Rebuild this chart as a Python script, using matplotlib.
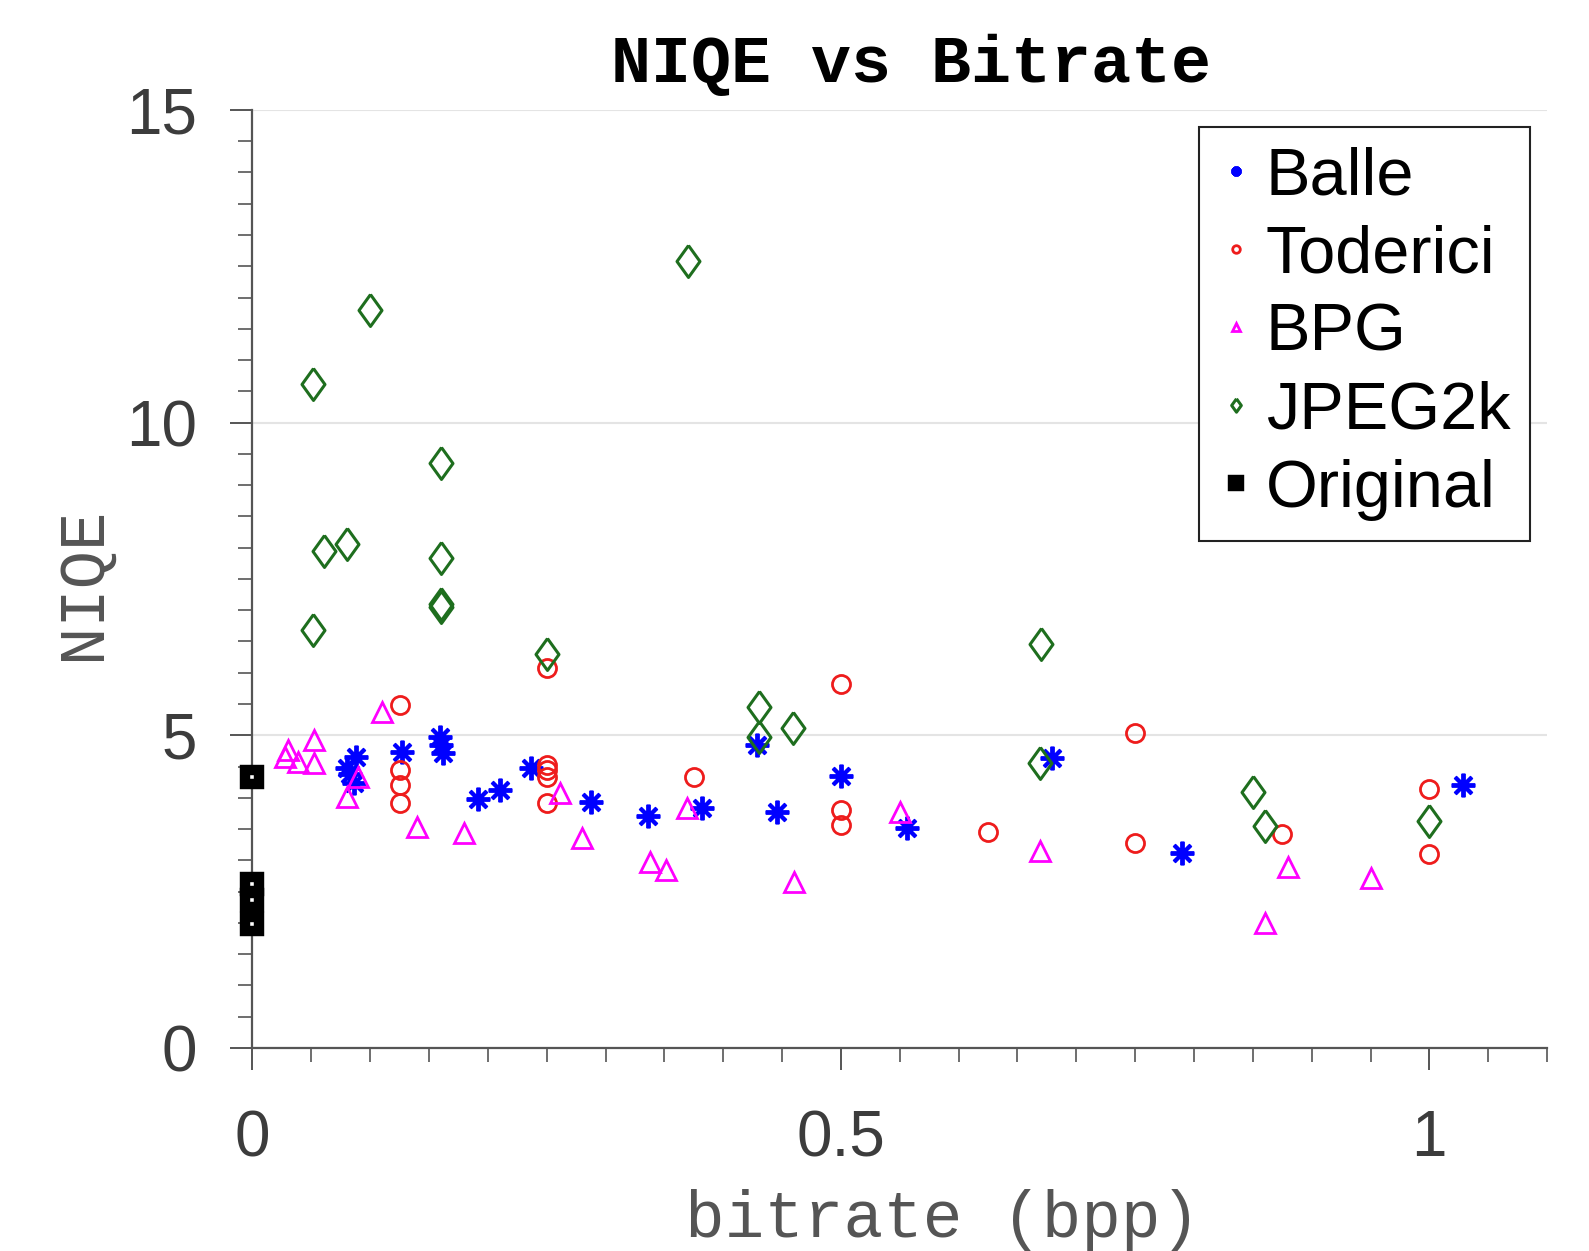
import matplotlib
matplotlib.use('Agg')
import matplotlib.pyplot as plt
from matplotlib.ticker import MultipleLocator

# =============================================================================
# NIQE scores per codec
# =============================================================================

balle_x = [0.080, 0.083, 0.086, 0.088, 0.127, 0.159, 0.160, 0.162, 0.192, 0.210,
           0.237, 0.2875, 0.336, 0.382, 0.429, 0.446, 0.500, 0.556, 0.679, 0.790, 1.029]
balle_y = [4.47, 4.38, 4.23, 4.66, 4.74, 4.98, 4.85, 4.71, 3.98, 4.12,
           4.47, 3.93, 3.71, 3.83, 4.85, 3.78, 4.35, 3.51, 4.63, 3.12, 4.21]

toderici_x = [0.125, 0.125, 0.125, 0.125, 0.250, 0.250, 0.250, 0.250, 0.250, 0.375,
              0.500, 0.500, 0.500, 0.625, 0.750, 0.750, 0.875, 1.000, 1.000]
toderici_y = [5.49, 4.45, 4.20, 3.91, 6.07, 4.53, 4.44, 4.34, 3.91, 4.34,
              5.82, 3.81, 3.57, 3.46, 5.03, 3.28, 3.42, 4.14, 3.10]

bpg_x = [0.028, 0.030, 0.039, 0.052, 0.052, 0.080, 0.090, 0.110, 0.140, 0.180, 0.261,
         0.280, 0.338, 0.351, 0.369, 0.460, 0.550, 0.669, 0.860, 0.880, 0.950]
bpg_y = [4.65, 4.76, 4.57, 4.92, 4.55, 4.02, 4.34, 5.38, 3.54, 3.44, 4.08,
         3.35, 2.97, 2.85, 3.83, 2.66, 3.78, 3.15, 2.00, 2.90, 2.71]

jpeg_x = [0.051, 0.051, 0.061, 0.080, 0.100, 0.160, 0.160, 0.160, 0.160, 0.250,
          0.370, 0.430, 0.430, 0.459, 0.669, 0.670, 0.8505, 0.860, 1.000]
jpeg_y = [10.62, 6.68, 7.94, 8.06, 11.80, 9.36, 7.83, 7.10, 7.05, 6.30,
          12.59, 5.46, 4.98, 5.11, 4.55, 6.46, 4.10, 3.55, 3.63]

orig_x = [0, 0, 0, 0]
orig_y = [4.33, 2.63, 2.36, 1.98]

# matlab-ish diamond, a bit wider than mpl's 'd'
diamond = [(0, 1), (0.72, 0), (0, -1), (-0.72, 0), (0, 1)]

# =============================================================================
# figure
# =============================================================================

fig = plt.figure(figsize=(15.89, 12.51), dpi=100)
ax = fig.add_axes([0.1589, 0.1623, 0.8147, 0.7498])

ax.plot(balle_x, balle_y, linestyle='none', marker=(8, 2, 0), ms=17, mew=2.8,
        color='#0000ff', label='Balle')
ax.plot(toderici_x, toderici_y, linestyle='none', marker='o', ms=13, mew=2.0,
        mfc='none', mec='#ee1c1c', label='Toderici')
ax.plot(bpg_x, bpg_y, linestyle='none', marker='^', ms=15, mew=2.0,
        mfc='none', mec='#ff00ff', label='BPG')
ax.plot(jpeg_x, jpeg_y, linestyle='none', marker=diamond, ms=23, mew=2.2,
        mfc='none', mec='#1e6e1e', label='JPEG2k')
ax.plot(orig_x, orig_y, linestyle='none', marker='s', ms=10.5, mew=7.5,
        mfc='white', mec='black', label='Original', clip_on=False, zorder=5)

ax.set_xlim(0, 1.1)
ax.set_ylim(0, 15)

ax.xaxis.set_major_locator(MultipleLocator(0.5))
ax.xaxis.set_minor_locator(MultipleLocator(0.05))
ax.yaxis.set_major_locator(MultipleLocator(5))
ax.yaxis.set_minor_locator(MultipleLocator(0.5))
ax.xaxis.set_major_formatter(plt.FuncFormatter(lambda v, p: '%g' % v))

ax.grid(True, which='major', axis='y', color='#e4e4e4', linewidth=1.5)
ax.set_axisbelow(True)

for s in ['top', 'right']:
    ax.spines[s].set_visible(False)
for s in ['left', 'bottom']:
    ax.spines[s].set_color('#555555')
    ax.spines[s].set_linewidth(1.6)

ax.tick_params(which='major', direction='out', length=16, width=1.4,
               color='#555555', labelsize=46, labelcolor='#3c3c3c', pad=24)
ax.tick_params(axis='x', which='major', pad=28)
ax.tick_params(which='minor', direction='out', length=10, width=1.2,
               color='#555555')
for lbl in ax.get_xticklabels() + ax.get_yticklabels():
    lbl.set_family('Liberation Sans')

ax.set_title('NIQE vs Bitrate', family='Liberation Mono', fontweight='bold',
             fontsize=48, pad=20, x=0.509)
ax.set_xlabel('bitrate (bpp)', family='Liberation Mono', fontsize=47.5,
              color='#555555')
ax.set_ylabel('NIQE', family='Liberation Mono', fontsize=46, color='#555555')
ax.xaxis.set_label_coords(0.533, -0.15)
ax.yaxis.set_label_coords(-0.108, 0.495)

leg = ax.legend(loc='upper right', prop={'family': 'Liberation Sans', 'size': 48},
                markerscale=0.42, handlelength=0.5, handletextpad=0.2,
                borderpad=0.3, labelspacing=0.24, borderaxespad=0.25,
                fancybox=False, framealpha=1)
leg.get_frame().set_edgecolor('#222222')
leg.get_frame().set_linewidth(1.5)

fig.savefig('out.png', dpi=100)
